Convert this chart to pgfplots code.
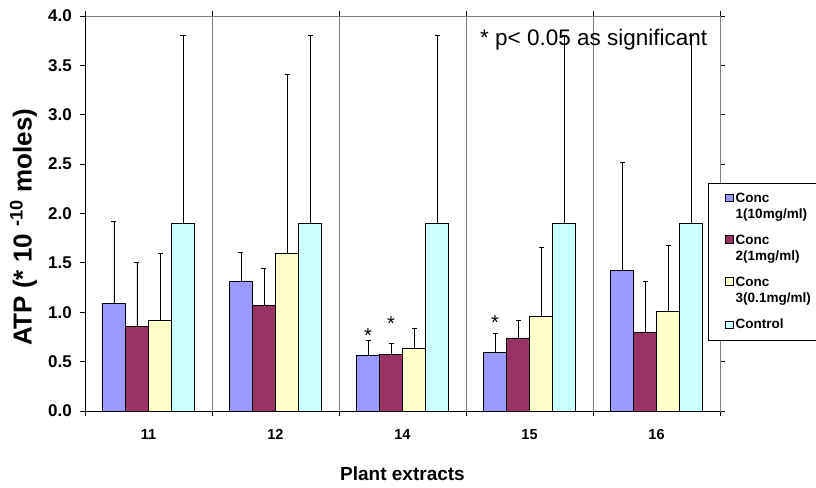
\documentclass[border=0pt]{standalone}
\usepackage{fontspec}
\setmainfont{Liberation Sans}
\usepackage{pgfplots}
\pgfplotsset{compat=1.18}
\definecolor{c1}{HTML}{9999FF}
\definecolor{c2}{HTML}{993366}
\definecolor{c3}{HTML}{FFFFCC}
\definecolor{c4}{HTML}{CCFFFF}
\definecolor{gridc}{HTML}{808080}
\pgfplotsset{
  lgtwo/.style={legend image code/.code={\draw[##1, line width=0.5pt] (-2pt,5.7pt) rectangle (6pt,13.1pt);}},
  lgone/.style={legend image code/.code={\draw[##1, line width=0.5pt] (-2pt,-3.7pt) rectangle (6pt,3.7pt);}},
}
\begin{document}
\begin{tikzpicture}
\path[use as bounding box] (-85pt,-76pt) rectangle (731pt,411pt);
\begin{axis}[
  scale only axis, width=635pt, height=395pt,
  xmin=-0.5, xmax=4.5, ymin=0, ymax=4,
  ybar=0pt, bar width=23pt,
  xtick={-0.5,0.5,1.5,2.5,3.5,4.5},
  xticklabels={11,12,14,15,16},
  x tick label as interval,
  xmajorgrids, major grid style={gridc, line width=0.8pt},
  ytick={0,0.5,1,1.5,2,2.5,3,3.5,4},
  tick align=outside, major tick length=5pt,
  tick style={black, line width=0.8pt},
  axis line style={gridc, line width=0.8pt},
  xticklabel style={font=\bfseries\fontsize{14.5}{17}\selectfont, inner sep=0pt, yshift=-13pt},
  yticklabel style={font=\bfseries\fontsize{17}{20}\selectfont, inner sep=0pt, xshift=-8pt,
     /pgf/number format/.cd, fixed, fixed zerofill, precision=1, assume math mode=true},
  ylabel={ATP (* 10 \textsuperscript{-10} moles)},
  ylabel style={at={(axis description cs:-0.097,0.465)}, anchor=center, font=\bfseries\fontsize{26}{30}\selectfont},
  xlabel={Plant extracts},
  xlabel style={at={(axis description cs:0.5,-0.175)}, anchor=base, font=\bfseries\fontsize{19}{22}\selectfont},
  legend style={at={(axis description cs:0.981,0.577)}, anchor=north west, draw=black, line width=0.6pt, fill=white,
     font=\bfseries\fontsize{13.5}{16}\selectfont, cells={anchor=west, align=left}, row sep=11pt, inner xsep=17pt, inner ysep=8pt},
  every axis plot/.append style={draw=black, line width=0.6pt},
  error bars/y dir=plus, error bars/y explicit,
  error bars/error bar style={black, line width=0.8pt},
  error bars/error mark options={rotate=90, mark size=2.5pt, black, line width=0.8pt},
]
\addplot[fill=c1, lgtwo]
  coordinates {(0,1.09) +- (0,0.83) (1,1.31) +- (0,0.30) (2,0.56) +- (0,0.15) (3,0.59) +- (0,0.20) (4,1.42) +- (0,1.10)};
\addplot[fill=c2, lgtwo]
  coordinates {(0,0.86) +- (0,0.64) (1,1.07) +- (0,0.37) (2,0.57) +- (0,0.11) (3,0.74) +- (0,0.18) (4,0.80) +- (0,0.51)};
\addplot[fill=c3, lgtwo]
  coordinates {(0,0.92) +- (0,0.68) (1,1.60) +- (0,1.81) (2,0.63) +- (0,0.21) (3,0.96) +- (0,0.70) (4,1.01) +- (0,0.67)};
\addplot[fill=c4, lgone]
  coordinates {(0,1.90) +- (0,1.90) (1,1.90) +- (0,1.90) (2,1.90) +- (0,1.90) (3,1.90) +- (0,1.90) (4,1.90) +- (0,1.90)};
\addlegendimage{empty legend}
\legend{Conc\\1(10mg/ml), Conc\\2(1mg/ml), Conc\\3(0.1mg/ml), Control, {}}
\node[anchor=west, inner sep=0pt, font=\fontsize{22.5}{26}\selectfont] at (axis cs:2.61,3.765) {* p< 0.05 as significant};
\node[anchor=north, inner sep=0pt, font=\fontsize{20}{22}\selectfont] at (axis cs:1.728,0.84) {*};
\node[anchor=north, inner sep=0pt, font=\fontsize{20}{22}\selectfont] at (axis cs:1.909,0.955) {*};
\node[anchor=north, inner sep=0pt, font=\fontsize{20}{22}\selectfont] at (axis cs:2.728,0.97) {*};
\draw[black, line width=0.8pt] (rel axis cs:0,1) -- (rel axis cs:0,0) -- (rel axis cs:1,0);
\end{axis}
\end{tikzpicture}
\end{document}
